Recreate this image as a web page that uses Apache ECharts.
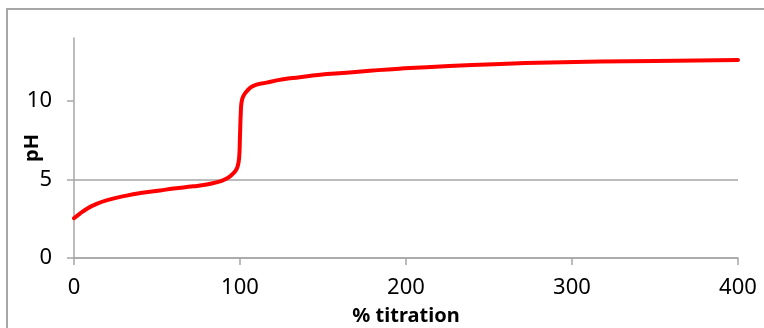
<!DOCTYPE html>
<html>
<head>
<meta charset="utf-8">
<script src="https://cdn.jsdelivr.net/npm/echarts@6/dist/echarts.min.js"></script>
<style>
    html, body { margin: 0; padding: 0; background: #fff; }
    #main { width: 764px; height: 328px; }
</style>
</head>
<body>
<div id="main"></div>
<script>
// % titration vs pH
var titration = [0, 3.6, 7.6, 11.6, 20, 31.7, 40, 51.8, 60, 71.9, 80, 86, 90, 94, 97, 98.5,
    99.5, 100, 100.5, 101, 102, 104, 108, 116, 126, 136, 147, 166, 180, 196, 226, 257, 287, 317, 350, 400];
var ph = [2.53, 2.83, 3.12, 3.35, 3.68, 3.97, 4.13, 4.3, 4.42, 4.56, 4.68, 4.82, 4.96, 5.2, 5.5, 5.8,
    6.4, 7.8, 9.3, 9.95, 10.3, 10.6, 10.95, 11.16, 11.37, 11.5, 11.65, 11.8, 11.93, 12.05, 12.22, 12.35, 12.44, 12.5, 12.54, 12.6];
var yLabels = [0, 5, 10];

var seriesData = titration.map(function (x, i) { return [x, ph[i]]; });

var chart = echarts.init(document.getElementById('main'));
var option = {
    animation: false,
    backgroundColor: '#fff',
    grid: {
        left: 74,
        right: 26,
        top: 38,
        bottom: 70,
        containLabel: false,
        outerBoundsMode: 'none'
    },
    graphic: [{
        type: 'rect',
        shape: { x: 7, y: 9, width: 800, height: 400 },
        style: { fill: 'none', stroke: '#a6a6a6', lineWidth: 2 },
        silent: true
    }],
    xAxis: {
        type: 'value',
        min: 0,
        max: 400,
        interval: 100,
        name: '% titration',
        nameLocation: 'middle',
        nameGap: 48,
        nameMoveOverlap: false,
        nameTextStyle: {
            fontFamily: 'Noto Sans',
            fontWeight: 'bold',
            fontSize: 20,
            color: '#000'
        },
        axisLine: { lineStyle: { color: '#a6a6a6', width: 1.5 } },
        axisTick: { show: true, inside: false, length: 7, lineStyle: { color: '#a6a6a6', width: 1.5 } },
        axisLabel: {
            margin: 19,
            fontFamily: 'Noto Sans',
            fontSize: 22,
            color: '#000'
        },
        splitLine: { show: false }
    },
    yAxis: {
        type: 'value',
        min: 0,
        max: 14,
        interval: 5,
        name: 'pH',
        nameLocation: 'middle',
        nameGap: 32,
        nameMoveOverlap: false,
        nameTextStyle: {
            fontFamily: 'Noto Sans',
            fontWeight: 'bold',
            fontSize: 20,
            color: '#000'
        },
        axisLine: { show: true, lineStyle: { color: '#a6a6a6', width: 1.5 } },
        axisTick: {
            show: true,
            length: 7,
            customValues: yLabels,
            lineStyle: { color: '#a6a6a6', width: 1.5 }
        },
        axisLabel: {
            margin: 22,
            customValues: yLabels,
            fontFamily: 'Noto Sans',
            fontSize: 22,
            color: '#000'
        },
        splitLine: {
            show: true,
            showMaxLine: false,
            lineStyle: { color: '#a6a6a6', width: 1.5 }
        }
    },
    series: [{
        type: 'line',
        data: seriesData,
        showSymbol: false,
        smooth: 0.5,
        lineStyle: { color: '#ff0000', width: 4, join: 'round', cap: 'round' },
        itemStyle: { color: '#ff0000' }
    }]
};
chart.setOption(option);
</script>
</body>
</html>
